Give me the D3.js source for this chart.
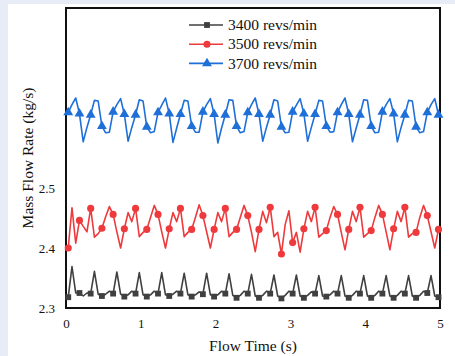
<!DOCTYPE html>
<html>
<head>
<meta charset="utf-8">
<script src="https://cdn.jsdelivr.net/npm/d3@7/dist/d3.min.js"></script>
<style>
  body { margin: 0; background: #e8ecf7; }
  svg text { font-family: "Liberation Serif", "Times New Roman", serif; fill: #111; }
</style>
</head>
<body>
<div id="chart"></div>
<script>
// flow time (s), one sample every 0.05 s
const flowTime = [
  0.03, 0.08, 0.13, 0.18, 0.23, 0.28, 0.33, 0.38, 0.43, 0.48,
  0.53, 0.58, 0.63, 0.68, 0.73, 0.78, 0.83, 0.88, 0.93, 0.98,
  1.03, 1.08, 1.13, 1.18, 1.23, 1.28, 1.33, 1.38, 1.43, 1.48,
  1.53, 1.58, 1.63, 1.68, 1.73, 1.78, 1.83, 1.88, 1.93, 1.98,
  2.03, 2.08, 2.13, 2.18, 2.23, 2.28, 2.33, 2.38, 2.43, 2.48,
  2.53, 2.58, 2.63, 2.68, 2.73, 2.78, 2.83, 2.88, 2.93, 2.98,
  3.03, 3.08, 3.13, 3.18, 3.23, 3.28, 3.33, 3.38, 3.43, 3.48,
  3.53, 3.58, 3.63, 3.68, 3.73, 3.78, 3.83, 3.88, 3.93, 3.98,
  4.03, 4.08, 4.13, 4.18, 4.23, 4.28, 4.33, 4.38, 4.43, 4.48,
  4.53, 4.58, 4.63, 4.68, 4.73, 4.78, 4.83, 4.88, 4.93, 4.98
];

const rpm3400 = [
  2.318, 2.369, 2.325, 2.325, 2.320, 2.325,
  2.324, 2.361, 2.323, 2.320, 2.323, 2.328,
  2.324, 2.360, 2.323, 2.319, 2.322, 2.328,
  2.324, 2.359, 2.322, 2.319, 2.322, 2.328,
  2.324, 2.359, 2.322, 2.320, 2.323, 2.328,
  2.324, 2.358, 2.322, 2.319, 2.322, 2.327,
  2.323, 2.358, 2.322, 2.319, 2.322, 2.328,
  2.324, 2.357, 2.321, 2.317, 2.321, 2.328,
  2.324, 2.356, 2.320, 2.317, 2.321, 2.328,
  2.324, 2.355, 2.320, 2.316, 2.321, 2.328,
  2.324, 2.355, 2.320, 2.317, 2.321, 2.327,
  2.324, 2.354, 2.320, 2.319, 2.322, 2.328,
  2.324, 2.354, 2.320, 2.317, 2.321, 2.328,
  2.324, 2.354, 2.320, 2.317, 2.321, 2.328,
  2.324, 2.354, 2.320, 2.317, 2.321, 2.328,
  2.324, 2.354, 2.320, 2.317, 2.321, 2.328,
  2.325, 2.354, 2.320, 2.318
];

const rpm3500 = [
  2.400, 2.467, 2.408, 2.446, 2.436, 2.427, 2.466, 2.418, 2.424, 2.433, 2.452, 2.469,
  2.456, 2.427, 2.400, 2.432, 2.459, 2.444, 2.466, 2.419, 2.426, 2.431, 2.451, 2.471,
  2.456, 2.427, 2.400, 2.432, 2.459, 2.444, 2.466, 2.419, 2.426, 2.431, 2.451, 2.472,
  2.454, 2.427, 2.400, 2.431, 2.459, 2.444, 2.466, 2.419, 2.426, 2.431, 2.451, 2.471,
  2.454, 2.426, 2.394, 2.431, 2.461, 2.442, 2.468, 2.419, 2.426, 2.390, 2.439, 2.462,
  2.409, 2.426, 2.393, 2.432, 2.461, 2.444, 2.468, 2.418, 2.424, 2.429, 2.451, 2.469,
  2.456, 2.426, 2.397, 2.431, 2.461, 2.444, 2.468, 2.418, 2.424, 2.429, 2.451, 2.471,
  2.456, 2.427, 2.397, 2.432, 2.461, 2.444, 2.468, 2.418, 2.424, 2.426, 2.451, 2.471,
  2.454, 2.427, 2.400, 2.431
];

const rpm3700 = [
  2.626, 2.639, 2.650, 2.624, 2.577, 2.601, 2.622, 2.646, 2.645, 2.603, 2.592, 2.593,
  2.627, 2.639, 2.649, 2.623, 2.578, 2.601, 2.622, 2.647, 2.645, 2.602, 2.592, 2.594,
  2.626, 2.638, 2.650, 2.624, 2.576, 2.600, 2.623, 2.646, 2.645, 2.603, 2.593, 2.593,
  2.627, 2.639, 2.649, 2.623, 2.575, 2.600, 2.622, 2.647, 2.646, 2.603, 2.592, 2.594,
  2.626, 2.639, 2.650, 2.623, 2.578, 2.601, 2.622, 2.647, 2.645, 2.602, 2.592, 2.593,
  2.627, 2.638, 2.649, 2.624, 2.578, 2.601, 2.623, 2.646, 2.645, 2.603, 2.593, 2.594,
  2.626, 2.639, 2.650, 2.623, 2.577, 2.600, 2.622, 2.647, 2.646, 2.603, 2.592, 2.593,
  2.627, 2.639, 2.649, 2.624, 2.577, 2.601, 2.622, 2.646, 2.645, 2.602, 2.592, 2.594,
  2.626, 2.639, 2.649, 2.622
];

const seriesNames = ['3400 revs/min', '3500 revs/min', '3700 revs/min'];
const xTicks = [0, 1, 2, 3, 4, 5];
const yTicks = [2.3, 2.4, 2.5];

const width = 455;
const height = 356;
const plot = { left: 66, right: 440, top: 8, bottom: 308 };

const series = [
  { name: seriesNames[0], values: rpm3400, color: '#404040', symbol: d3.symbolSquare, size: 34 },
  { name: seriesNames[1], values: rpm3500, color: '#ee3a3c', symbol: d3.symbolCircle, size: 40 },
  { name: seriesNames[2], values: rpm3700, color: '#1f6fd8', symbol: d3.symbolTriangle, size: 42 },
];

const x = d3.scaleLinear().domain([0, 5]).range([plot.left, plot.right]);
const y = d3.scaleLinear().domain([2.3, 2.8]).range([plot.bottom, plot.top]);

const svg = d3.select('#chart').append('svg')
  .attr('width', width)
  .attr('height', height);

svg.append('rect')
  .attr('width', width).attr('height', height)
  .attr('fill', '#e8ecf7');

svg.append('rect')
  .attr('x', 8).attr('y', 4)
  .attr('width', width - 8).attr('height', height - 4)
  .attr('fill', '#fff');

// axes without tick marks, only labels
const xAxis = svg.append('g')
  .attr('transform', `translate(0, ${plot.bottom + 8})`)
  .call(d3.axisBottom(x).tickValues(xTicks).tickSize(0).tickFormat(d3.format('d')));
xAxis.select('.domain').remove();
xAxis.selectAll('text')
  .attr('font-size', 13)
  .attr('dy', '0.71em');

const yAxis = svg.append('g')
  .attr('transform', `translate(${plot.left - 11}, 0)`)
  .call(d3.axisLeft(y).tickValues(yTicks).tickSize(0).tickFormat(d3.format('.1f')));
yAxis.select('.domain').remove();
yAxis.selectAll('text')
  .attr('font-size', 13)
  .attr('x', 0);

svg.append('text')
  .attr('transform', `translate(33, ${(plot.top + plot.bottom) / 2}) rotate(-90)`)
  .attr('text-anchor', 'middle')
  .attr('font-size', 15.5)
  .text('Mass Flow Rate (kg/s)');

svg.append('text')
  .attr('x', (plot.left + plot.right) / 2)
  .attr('y', 351)
  .attr('text-anchor', 'middle')
  .attr('font-size', 15.5)
  .text('Flow Time (s)');

svg.append('rect')
  .attr('x', plot.left).attr('y', plot.top)
  .attr('width', plot.right - plot.left)
  .attr('height', plot.bottom - plot.top)
  .attr('fill', 'none')
  .attr('stroke', '#111')
  .attr('stroke-width', 2);

const line = d3.line()
  .x((d, i) => x(flowTime[i]))
  .y((d) => y(d));

const group = svg.append('g');

series.forEach((s) => {
  group.append('path')
    .datum(s.values)
    .attr('d', line)
    .attr('fill', 'none')
    .attr('stroke', s.color)
    .attr('stroke-width', 1.6)
    .attr('stroke-linejoin', 'round');

  group.selectAll(null)
    .data(s.values.map((v, i) => [flowTime[i], v]).filter((d, i) => i % 3 === 0))
    .enter().append('path')
    .attr('d', d3.symbol().type(s.symbol).size(s.size))
    .attr('transform', (d) => `translate(${x(d[0])}, ${y(d[1])})`)
    .attr('fill', s.color);
});

// legend
const legend = svg.append('g')
  .attr('transform', 'translate(189, 25)');

const row = legend.selectAll('.row')
  .data(series)
  .enter().append('g')
  .attr('class', 'row')
  .attr('transform', (d, i) => `translate(0, ${i * 19.2})`);

row.append('line')
  .attr('x1', 0).attr('x2', 34)
  .attr('stroke', (d) => d.color)
  .attr('stroke-width', 1.6);

row.append('path')
  .attr('d', (d) => d3.symbol().type(d.symbol).size(d.size)())
  .attr('transform', 'translate(18, 0)')
  .attr('fill', (d) => d.color);

row.append('text')
  .attr('x', 39)
  .attr('dy', '0.34em')
  .attr('font-size', 15.5)
  .text((d) => d.name);
</script>
</body>
</html>
